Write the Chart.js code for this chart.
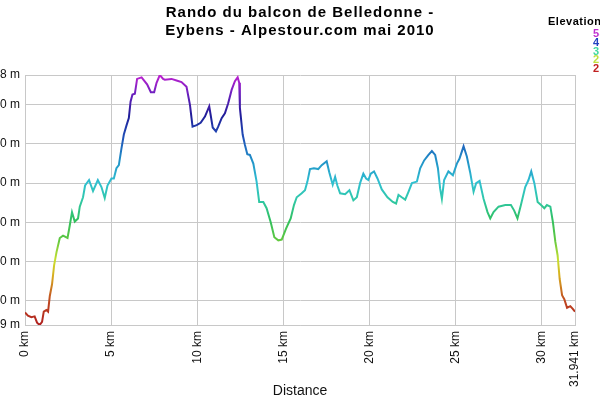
<!DOCTYPE html>
<html>
<head>
<meta charset="utf-8">
<script src="https://cdn.jsdelivr.net/npm/chart.js@4/dist/chart.umd.min.js"></script>
<style>
  html, body { margin: 0; padding: 0; width: 600px; height: 400px; overflow: hidden; background: #fff; }
  #wrap { position: relative; width: 600px; height: 400px; overflow: hidden; }
  #profile { position: absolute; left: -35px; top: 0; }
</style>
</head>
<body>
<div id="wrap"><canvas id="profile" width="635" height="400"></canvas></div>
<script>
// elevation profile, distance in km / elevation in m
const distKm = [0, 0.17, 0.37, 0.56, 0.70, 0.85, 0.99, 1.09, 1.24, 1.34, 1.44, 1.57, 1.69, 1.83, 2.02, 2.21, 2.47, 2.60, 2.73, 2.89,
  3.08, 3.18, 3.37, 3.49, 3.72, 3.95, 4.23, 4.44, 4.63, 4.79, 5.02, 5.16, 5.31, 5.45, 5.60, 5.74, 5.90, 6.03, 6.13, 6.24,
  6.38, 6.51, 6.77, 7.09, 7.31, 7.50, 7.64, 7.83, 8.02,
  8.12, 8.51, 8.80, 9.09, 9.38, 9.58, 9.73, 9.97, 10.20, 10.45, 10.70, 10.90, 11.09, 11.22, 11.42, 11.61, 11.80, 12.00, 12.19, 12.35,
  12.44, 12.48, 12.64, 12.77, 12.91, 13.06, 13.26, 13.45, 13.60, 13.84, 14.03, 14.27, 14.48, 14.71, 14.91, 15.16, 15.43, 15.62, 15.78, 16.07,
  16.26,
  16.40, 16.55, 16.78, 17.03, 17.23, 17.52, 17.67, 17.87, 18.01, 18.14, 18.30, 18.59, 18.84, 19.07, 19.27, 19.46, 19.65, 19.81, 19.94, 20.08,
  20.27, 20.47, 20.72, 21.05, 21.36, 21.55, 21.69, 21.88, 22.08, 22.27, 22.47, 22.76, 22.95, 23.18, 23.43, 23.63, 23.82, 23.98, 24.11, 24.21,
  24.34, 24.59, 24.85, 25.08, 25.23, 25.47, 25.66, 25.85, 26.05, 26.20, 26.40, 26.63, 26.86, 27.02, 27.21, 27.50, 27.89, 28.22, 28.41, 28.60,
  28.80, 29.05, 29.24, 29.40, 29.58, 29.77, 29.97, 30.16, 30.31, 30.51, 30.66, 30.80, 30.93, 31.05, 31.19, 31.32, 31.48, 31.67, 31.80, 31.941];

const elevM = [235, 231, 229, 230, 222, 219, 223, 236, 238, 236, 256, 271, 295, 312, 330, 333, 330, 346, 363, 351,
  355, 370, 382, 397, 404, 390, 404, 395, 381, 397, 406, 406, 419, 423, 444, 462, 474, 483, 504, 513,
  514, 533, 535, 526, 516, 516, 528, 538, 533,
  532, 533, 531, 529, 523, 500, 472, 474, 477, 485, 498, 471, 466, 472, 483, 489, 502, 519, 530, 535,
  528, 496, 462, 449, 437, 436, 425, 402, 376, 376, 368, 350, 331, 327, 328, 342, 355, 372, 382, 387,
  391,
  402, 418, 419, 418, 423, 428, 414, 398, 408, 397, 387, 386, 391, 378, 382, 400, 412, 406, 404, 412,
  415, 406, 392, 382, 376, 374, 385, 382, 379, 389, 400, 402, 419, 429, 436, 441, 436, 419, 393, 380,
  404, 415, 410, 425, 431, 447, 434, 414, 389, 400, 403, 380, 363, 355, 363, 370, 372, 372, 365, 355,
  372, 395, 404, 415, 400, 376, 372, 368, 372, 370, 350, 325, 308, 278, 257, 252, 241, 243, 240, 236];

const xTicks = [0, 5, 10, 15, 20, 25, 30, 31.941];
const yTicks = [219, 250, 300, 350, 400, 450, 500, 538];

const titleLines = ['Rando du balcon de Belledonne -', 'Eybens - Alpestour.com mai 2010'];
const legendTitle = 'Elevation';
const legendLabels = ['538 m', '458 m', '378 m', '298 m', '219 m'];
const legendColors = ['#c030d0', '#2040c0', '#40d8a0', '#c0e040', '#c02020'];

// colour ramp along elevation (bottom -> top)
const rampStops = [
  [0.00, '#b02020'], [0.10, '#c04a20'], [0.20, '#d8b020'], [0.26, '#c8e030'],
  [0.34, '#60c840'], [0.42, '#30c060'], [0.50, '#30c8a8'], [0.57, '#30c0d0'],
  [0.66, '#2090c8'], [0.75, '#2050b8'], [0.84, '#201c98'], [0.93, '#7020c0'],
  [1.00, '#c020d0']
];

function elevationGradient(ctx) {
  const chart = ctx.chart;
  const area = chart.chartArea;
  if (!area) return '#30c8c0';
  const g = chart.ctx.createLinearGradient(0, area.bottom, 0, area.top);
  rampStops.forEach(s => g.addColorStop(s[0], s[1]));
  return g;
}

const font = '"Liberation Sans", Arial, sans-serif';

// title (spaced letters) and the clipped elevation legend on the right
const decorPlugin = {
  id: 'decor',
  afterDraw(chart) {
    const c = chart.ctx;
    const area = chart.chartArea;
    c.save();
    c.textBaseline = 'middle';
    c.textAlign = 'center';
    c.letterSpacing = '1px';
    c.font = 'bold 15px ' + font;
    c.fillStyle = '#000';
    titleLines.forEach((t, i) => c.fillText(t, (area.left + area.right) / 2, 13 + i * 18));

    c.textAlign = 'left';
    c.letterSpacing = '0.5px';
    c.font = 'bold 11px ' + font;
    c.fillText(legendTitle, area.right - 27, 22);
    c.font = 'bold 11px ' + font;
    legendLabels.forEach((t, i) => {
      c.fillStyle = legendColors[i];
      c.fillText(t, area.right + 18, 34 + i * 8.8);
    });
    c.restore();
  }
};

const gridColor = '#c8c8c8';

new Chart(document.getElementById('profile').getContext('2d'), {
  type: 'line',
  data: {
    datasets: [{
      label: 'Elevation',
      data: distKm.map((d, i) => ({ x: d, y: elevM[i] })),
      borderColor: elevationGradient,
      borderWidth: 2,
      pointRadius: 0,
      fill: false,
      tension: 0
    }]
  },
  options: {
    responsive: false,
    animation: false,
    layout: { padding: { right: 25, left: 0, top: 75, bottom: 0 } },
    plugins: {
      legend: { display: false },
      tooltip: { enabled: false },
      title: { display: false }
    },
    scales: {
      x: {
        type: 'linear',
        min: 0,
        max: 31.941,
        afterBuildTicks: s => { s.ticks = xTicks.map(v => ({ value: v })); },
        afterFit: s => { s.height = 75; },
        grid: { color: gridColor, drawTicks: false },
        border: { color: gridColor },
        ticks: {
          autoSkip: false,
          minRotation: 90,
          maxRotation: 90,
          padding: 6,
          color: '#111',
          font: { family: font, size: 12 },
          callback: v => v + ' km'
        },
        title: {
          display: true,
          text: 'Distance',
          color: '#111',
          font: { family: font, size: 14 },
          padding: { top: 0, bottom: 0 }
        }
      },
      y: {
        min: 219,
        max: 538,
        afterBuildTicks: s => { s.ticks = yTicks.map(v => ({ value: v })); },
        afterFit: s => { s.width = 60; },
        grid: { color: gridColor, drawTicks: false },
        border: { color: gridColor },
        ticks: {
          padding: 5,
          color: '#111',
          font: { family: font, size: 12 },
          callback: v => v + ' m'
        }
      }
    }
  },
  plugins: [decorPlugin]
});
</script>
</body>
</html>
